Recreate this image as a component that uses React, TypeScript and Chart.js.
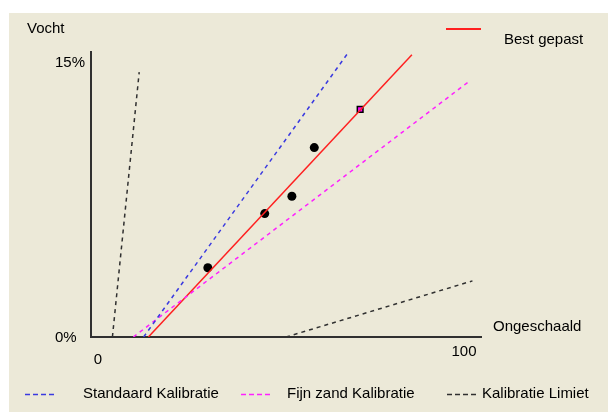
import React, { useEffect, useRef } from "react";
import { Chart, registerables } from "chart.js";

Chart.register(...registerables);

// ---- data ----
const xTickValues = [0, 100];
const xTickLabels = ["0", "100"];
const yTickValues = [0, 15];
const yTickLabels = ["0%", "15%"];

const xAxisTitle = "Ongeschaald";
const yAxisTitle = "Vocht";

const bestFitX = [14.0, 85.8];
const bestFitY = [0, 15.4];

const standaardX = [12.7, 68.2];
const standaardY = [0, 15.44];

const fijnZandX = [9.9, 101.1];
const fijnZandY = [0, 13.9];

const limietUpperX = [4.2, 11.5];
const limietUpperY = [0, 14.45];
const limietLowerX = [51.5, 102.3];
const limietLowerY = [0, 3.06];

const measuredX = [30.2, 45.7, 53.1, 59.2];
const measuredY = [3.78, 6.73, 7.68, 10.33];

const selectedX = [71.7];
const selectedY = [12.42];

const seriesNames = ["Best gepast", "Standaard Kalibratie", "Fijn zand Kalibratie", "Kalibratie Limiet"];

const X_MIN = -1.635;
const X_MAX = 104.9;
const Y_MIN = 0;
const Y_MAX = 15.6;

const zip = (xs: number[], ys: number[]) => xs.map((x, i) => ({ x, y: ys[i] }));

const BG = "#ECE9D8";
const FONT = '15px "Liberation Sans", Arial, sans-serif';
const RED = "#FF2020";
const BLUE = "#3A3AE0";
const MAGENTA = "#FF20FF";
const DARK = "#303030";

const decorPlugin = {
  id: "decor",
  beforeDraw(chart: any) {
    const { ctx, width, height } = chart;
    ctx.save();
    ctx.fillStyle = "#FFFFFF";
    ctx.fillRect(0, 0, width, height);
    ctx.fillStyle = BG;
    ctx.fillRect(9, 13, width - 9, height - 13);
    ctx.restore();
  },
  beforeDatasetsDraw(chart: any) {
    const { ctx, chartArea } = chart;
    const { left, right, top, bottom } = chartArea;
    ctx.save();
    ctx.strokeStyle = DARK;
    ctx.lineWidth = 2;
    ctx.beginPath();
    ctx.moveTo(left, top);
    ctx.lineTo(left, bottom);
    ctx.lineTo(right, bottom);
    ctx.stroke();
    ctx.restore();
  },
  afterDraw(chart: any) {
    const { ctx, chartArea } = chart;
    const { left, right, top, bottom } = chartArea;
    const xs = chart.scales.x;
    const ys = chart.scales.y;
    ctx.save();
    ctx.font = FONT;
    ctx.fillStyle = "#000000";
    ctx.textBaseline = "alphabetic";

    // y tick labels
    ctx.textAlign = "left";
    yTickValues.forEach((v, i) => {
      ctx.fillText(yTickLabels[i], left - 36, ys.getPixelForValue(v) + 5);
    });
    // x tick labels
    ctx.textAlign = "center";
    xTickValues.forEach((v, i) => {
      const px = xs.getPixelForValue(v);
      ctx.fillText(xTickLabels[i], px + (i === 0 ? 1 : 0), bottom + (i === 0 ? 27 : 19));
    });

    // axis titles
    ctx.textAlign = "left";
    ctx.fillText(yAxisTitle, 27, top - 18);
    ctx.fillText(xAxisTitle, right + 11, bottom - 6);

    // top-right legend (Best gepast)
    ctx.setLineDash([]);
    ctx.strokeStyle = RED;
    ctx.lineWidth = 2;
    ctx.beginPath();
    ctx.moveTo(446, 29);
    ctx.lineTo(481, 29);
    ctx.stroke();
    ctx.fillText(seriesNames[0], 504, 44);

    // bottom legend
    const items = [
      { color: BLUE, x: 25, tx: 83, name: seriesNames[1] },
      { color: MAGENTA, x: 241, tx: 287, name: seriesNames[2] },
      { color: DARK, x: 447, tx: 482, name: seriesNames[3] },
    ];
    items.forEach((it) => {
      ctx.strokeStyle = it.color;
      ctx.lineWidth = 1.5;
      ctx.setLineDash([5, 3]);
      ctx.beginPath();
      ctx.moveTo(it.x, 394.5);
      ctx.lineTo(it.x + 30, 394.5);
      ctx.stroke();
      ctx.setLineDash([]);
      ctx.fillText(it.name, it.tx, 398);
    });
    ctx.restore();
  },
};

export default function App() {
  const ref = useRef<HTMLCanvasElement | null>(null);

  useEffect(() => {
    if (!ref.current) return;
    const lineDs = (label: string, data: any[], color: string, dash: number[]) => ({
      label,
      data,
      showLine: true,
      borderColor: color,
      borderWidth: 1.5,
      borderDash: dash,
      pointRadius: 0,
      fill: false,
    });
    const chart = new Chart(ref.current, {
      type: "scatter",
      data: {
        datasets: [
          lineDs(seriesNames[1], zip(standaardX, standaardY), BLUE, [4, 4]),
          lineDs(seriesNames[2], zip(fijnZandX, fijnZandY), MAGENTA, [4, 4]),
          lineDs(seriesNames[3], zip(limietUpperX, limietUpperY), DARK, [4, 4]),
          lineDs(seriesNames[3], zip(limietLowerX, limietLowerY), DARK, [4, 4]),
          lineDs(seriesNames[0], zip(bestFitX, bestFitY), RED, []),
          {
            label: "Metingen",
            data: zip(measuredX, measuredY),
            pointRadius: 4.5,
            pointBackgroundColor: "#000000",
            pointBorderColor: "#000000",
            pointBorderWidth: 0,
            showLine: false,
          } as any,
          {
            label: "Geselecteerd",
            data: zip(selectedX, selectedY),
            pointStyle: "rect",
            pointRadius: 4,
            pointBackgroundColor: "#FF00FF",
            pointBorderColor: "#000000",
            pointBorderWidth: 1.5,
            showLine: false,
          } as any,
        ],
      },
      options: {
        animation: false,
        responsive: false,
        maintainAspectRatio: false,
        events: [],
        layout: { padding: { left: 91, right: 126, top: 51, bottom: 75 } },
        scales: {
          x: { type: "linear", min: X_MIN, max: X_MAX, display: false },
          y: { type: "linear", min: Y_MIN, max: Y_MAX, display: false },
        },
        plugins: {
          legend: { display: false },
          tooltip: { enabled: false },
          title: { display: false },
        },
      },
      plugins: [decorPlugin],
    });
    return () => chart.destroy();
  }, []);

  return (
    <div style={{ position: "absolute", left: 0, top: 0, width: 608, height: 412 }}>
      <canvas ref={ref} width={608} height={412} style={{ width: 608, height: 412, display: "block" }} />
    </div>
  );
}
